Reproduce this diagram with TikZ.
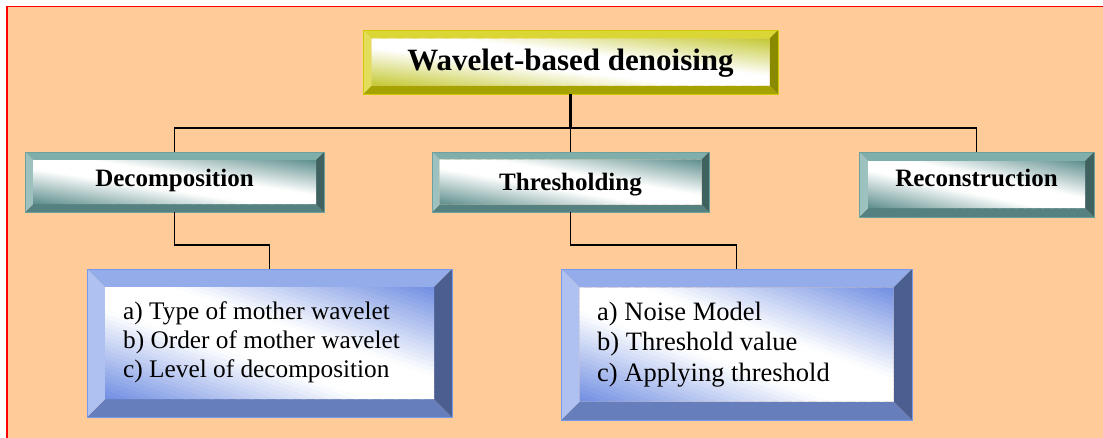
\documentclass[tikz,border=0pt]{standalone}
\usepackage{fontspec}
\setmainfont{Liberation Serif}

\definecolor{peach}{RGB}{255,203,152}
\definecolor{framered}{RGB}{255,0,0}
% olive-yellow bevel set
\definecolor{yeT}{RGB}{217,214,54}
\definecolor{yeL}{RGB}{226,222,92}
\definecolor{yeR}{RGB}{138,138,0}
\definecolor{yeB}{RGB}{166,163,0}
\definecolor{yeF}{RGB}{196,200,50}
\definecolor{yeO}{RGB}{204,204,0}
% teal bevel set
\definecolor{teT}{RGB}{127,174,171}
\definecolor{teL}{RGB}{157,193,191}
\definecolor{teR}{RGB}{63,98,97}
\definecolor{teB}{RGB}{85,130,129}
\definecolor{teF}{RGB}{92,142,140}
\definecolor{teO}{RGB}{110,160,158}
% blue bevel set
\definecolor{blT}{RGB}{148,172,234}
\definecolor{blL}{RGB}{175,193,240}
\definecolor{blR}{RGB}{74,94,143}
\definecolor{blB}{RGB}{102,126,188}
\definecolor{blF}{RGB}{112,142,226}
\definecolor{blO}{RGB}{120,152,236}

% bevelled box: #1 name, #2 colour set, #3 left, #4 top, #5 right, #6 bottom, #7 bevel width
% The face is filled with strips parallel to its top-left/bottom-right diagonal:
% white along that diagonal, full colour in the other two corners.
\newcommand\bevelbox[7]{%
  \fill[#2T] (#3,#4) -- (#5,#4) -- (#5-#7,#4+#7) -- (#3+#7,#4+#7) -- cycle;
  \fill[#2B] (#3,#6) -- (#5,#6) -- (#5-#7,#6-#7) -- (#3+#7,#6-#7) -- cycle;
  \fill[#2L] (#3,#4) -- (#3+#7,#4+#7) -- (#3+#7,#6-#7) -- (#3,#6) -- cycle;
  \fill[#2R] (#5,#4) -- (#5-#7,#4+#7) -- (#5-#7,#6-#7) -- (#5,#6) -- cycle;
  \pgfmathsetmacro\fL{#3+#7}\pgfmathsetmacro\fT{#4+#7}%
  \pgfmathsetmacro\fW{#5-#3-2*#7}\pgfmathsetmacro\fH{#6-#4-2*#7}%
  \begin{scope}
    \clip (\fL,\fT) rectangle (\fL+\fW,\fT+\fH);
    \foreach \k in {0,...,49} {
      \pgfmathsetmacro\ca{-1+\k*0.04}
      \pgfmathsetmacro\cb{\ca+0.05}
      \pgfmathsetmacro\mix{max(0,min(100,(abs(\ca+0.02)-0.2)/0.8*100))}
      \fill[#2F!\mix!white] (\fL+\fW*\ca,\fT) -- (\fL+\fW*\cb,\fT)
        -- (\fL+\fW*\cb+\fW,\fT+\fH) -- (\fL+\fW*\ca+\fW,\fT+\fH) -- cycle;
    }
  \end{scope}
  \draw[#2O, line width=0.8] (#3,#4) rectangle (#5,#6);
  \node[inner sep=0, minimum width={(#5-#3)*1pt}, minimum height={(#6-#4)*1pt}]
    (#1) at ({(#3+#5)/2},{(#4+#6)/2}) {};
}

\tikzset{
  hdr/.style={font=\bfseries\fontsize{25}{30}\selectfont, inner sep=0, anchor=base},
  lst/.style={inner sep=0, align=left, anchor=base west},
  link/.style={line width=1.9, black},
}

\begin{document}
\begin{tikzpicture}[x=1pt, y=-1pt]
\useasboundingbox (0,0) rectangle (1103,437);
\fill[white] (0,0) rectangle (1103,437);
\fill[peach] (7.2,6.5) rectangle (1110,445);
\draw[framered, line width=1.6] (7.2,445) -- (7.2,6.5) -- (1110,6.5);

% boxes
\bevelbox{title}{ye}{363}{30}{778}{94}{8.5}
\bevelbox{decomp}{te}{25}{152}{324}{212}{8}
\bevelbox{thresh}{te}{432}{152}{709}{212}{7.5}
\bevelbox{recon}{te}{859}{152}{1094}{217}{9}
\bevelbox{decsub}{bl}{87}{269}{452}{417}{18}
\bevelbox{thrsub}{bl}{561}{269}{912}{420}{18.5}

% labels (list nodes are anchored on the baseline of their last line)
\node[font=\bfseries\fontsize{31}{36}\selectfont, inner sep=0, anchor=base]
  (title-t) at (title.center |- 0,70) {Wavelet-based denoising};
\node[hdr] (decomp-t) at (decomp.center |- 0,186) {Decomposition};
\node[hdr] (thresh-t) at (thresh.center |- 0,190) {Thresholding};
\node[hdr] (recon-t) at (recon.center |- 0,186) {Reconstruction};
\node[lst, font=\fontsize{25.3}{29}\selectfont] (decsub-t) at (123,377)
  {a) Type of mother wavelet\\b) Order of mother wavelet\\c) Level of decomposition};
\node[lst, font=\fontsize{26.5}{30.5}\selectfont] (thrsub-t) at (597,381)
  {a) Noise Model\\b) Threshold value\\c) Applying threshold};

% connectors
\draw[line width=2.7] (title.south) -- ++(0,34);
\draw[link] (decomp.north) -- ++(0,-24) -| (recon.north);
\draw[link] (title.south) ++(0,34) -- (thresh.north);
\draw[link] (decomp.south) -- ++(0,33) -| (decsub.north);
\draw[link] (thresh.south) -- ++(0,33) -| (thrsub.north);
\end{tikzpicture}
\end{document}
